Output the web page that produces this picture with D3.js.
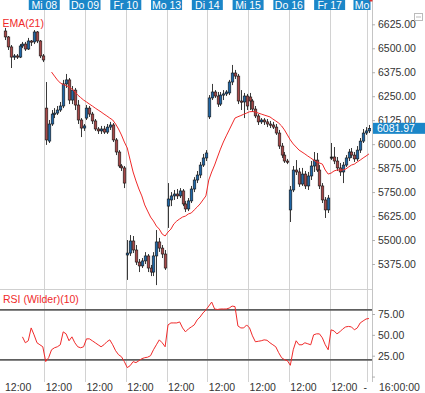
<!DOCTYPE html>
<html><head><meta charset="utf-8">
<script src="https://cdn.jsdelivr.net/npm/d3@7"></script>
<style>body{margin:0;background:#fff}svg{display:block;font-family:"Liberation Sans",Arial,sans-serif}</style>
</head><body><div id="c"></div>
<script>
// ---- data ----
const dayLabels = ["Mi 08","Do 09","Fr 10","Mo 13","Di 14","Mi 15","Do 16","Fr 17","Mo"];
const daySlots  = [14,28,42,56,70,84,98,112,125];
const opens = [
6590,6559,6507,6454,6460,6454,6512,6522,6496,6538,6533,6585,6538,6460,
6188,6016,6105,6157,6162,6178,6199,6314,6335,6230,6282,6204,6126,6084,
6136,6188,6157,6121,6079,6069,6079,6063,6089,6100,6022,5959,5886,5876,
5422,5432,5495,5448,5385,5365,5391,5417,5354,5333,5417,5490,5458,5427,
5677,5709,5730,5740,5730,5756,5688,5662,5704,5766,5813,5839,5891,5928,
6142,6241,6272,6251,6209,6256,6262,6267,6324,6371,6355,6225,6220,6251,
6246,6225,6183,6147,6116,6126,6116,6105,6100,6089,6058,5990,5943,5912,
5657,5761,5865,5855,5792,5844,5782,5834,5886,5917,5865,5782,5709,5657,
5933,5933,5912,5876,5855,5891,5928,5959,5943,5923,5969,6016,6058,
6069];
const highs = [
6606,6564,6517,6470,6470,6522,6533,6533,6554,6543,6595,6590,6543,6470,
6324,6126,6178,6188,6199,6220,6335,6366,6345,6303,6293,6230,6136,6105,
6204,6199,6168,6131,6089,6095,6095,6105,6116,6110,6032,5969,5896,5886,
5500,5526,5521,5474,5401,5406,5437,5427,5370,5437,5552,5511,5474,5448,
5797,5750,5761,5766,5771,5766,5704,5719,5782,5828,5860,5907,5949,5969,
6256,6314,6282,6272,6272,6282,6282,6335,6413,6387,6366,6282,6267,6262,
6267,6235,6199,6157,6136,6136,6131,6121,6116,6105,6074,6006,5959,5923,
5782,5886,5917,5876,5876,5860,5855,5912,5959,5954,5891,5797,5724,5735,
6006,5985,5933,5902,5907,5943,5975,5980,5959,5990,6032,6079,6089,
6100];
const lows = [
6543,6491,6397,6439,6444,6449,6501,6486,6491,6512,6522,6527,6449,6428,
5996,6006,6095,6136,6152,6168,6188,6293,6209,6209,6178,6105,6037,6069,
6126,6142,6105,6069,6053,6053,6053,6053,6074,6011,5943,5876,5860,5771,
5292,5417,5432,5370,5333,5354,5375,5333,5312,5312,5265,5438,5406,5344,
5563,5677,5709,5714,5719,5677,5646,5651,5693,5750,5797,5823,5881,5912,
6131,6230,6241,6194,6199,6230,6251,6256,6308,6340,6209,6178,6136,6178,
6178,6168,6136,6100,6105,6100,6089,6084,6079,6048,5975,5928,5902,5896,
5594,5750,5839,5777,5782,5766,5761,5813,5855,5855,5766,5693,5615,5641,
5917,5896,5860,5834,5797,5881,5912,5928,5907,5912,5954,6006,6048,
6058];
const closes = [
6559,6507,6454,6460,6454,6512,6522,6496,6538,6533,6585,6538,6460,6439,
6022,6105,6157,6162,6178,6199,6314,6335,6230,6282,6204,6126,6084,6095,
6188,6157,6121,6079,6069,6079,6063,6089,6100,6022,5959,5886,5876,5797,
5432,5495,5448,5385,5365,5391,5417,5354,5333,5417,5490,5458,5427,5354,
5714,5730,5740,5730,5756,5688,5662,5704,5766,5813,5839,5891,5928,5954,
6241,6272,6251,6209,6256,6262,6272,6324,6371,6355,6225,6220,6251,6199,
6225,6183,6147,6116,6126,6116,6105,6100,6089,6058,5990,5943,5912,5907,
5761,5865,5855,5792,5844,5782,5834,5886,5917,5865,5782,5709,5657,5719,
5933,5912,5876,5855,5891,5928,5959,5943,5923,5969,6016,6058,6069,
6081.97];
const ema = [
null,null,null,null,null,null,null,null,null,null,null,null,null,null,null,null,
6376,6355,6335,6319,6311,6306,6298,6288,6272,6256,6243,6230,
6220,6209,6199,6188,6178,6168,6157,6147,6136,6126,6105,6079,6048,6011,
5980,5917,5855,5808,5766,5730,5683,5651,5620,5599,5573,5557,5531,5521,
5542,5557,5584,5599,5610,5620,5625,5636,5641,5657,5672,5688,5709,5730,
5813,5855,5891,5933,5974,6011,6043,6074,6105,6136,6143,6149,6156,6162,
6169,6170,6168,6162,6157,6152,6147,6142,6131,6121,6110,6095,6074,6048,
6022,6001,5985,5969,5959,5949,5938,5928,5917,5907,5902,5896,5865,5844,
5849,5860,5865,5865,5865,5870,5881,5891,5896,5907,5917,5928,5938,
5949];
const rsi = [
null,null,null,null,null,null,
47.6,40.5,42.9,58.3,50,40.5,38.1,35.7,
17.9,22.6,32.1,34.5,35.7,38.1,53.6,51.2,42.9,47.6,40.5,35.7,34.5,35.7,
45.2,45.2,42.9,40.5,38.1,35.7,38.1,41.7,44,38.1,31,26.2,23.8,17.9,
10.7,13.1,17.9,16.7,19,21.4,22.6,23.2,25,32.1,38.1,44,40.5,35.7,
61.9,64.3,64.3,64.3,65.5,58.3,53.6,57.1,59.5,61.9,67.9,71.4,76.2,79.8,
84.5,89.3,81,80.4,81,81,81,82.1,84.5,83.9,60.7,58.3,58.3,61.9,
58.3,48.8,41.7,42.3,42.9,44,43.5,40.5,38.1,35.7,28.6,22.6,20.2,19,
13.5,32.1,42.9,38.1,38.1,40.5,39.3,38.1,50,51.2,51.2,46.4,38.1,32.1,
56,54.8,51.2,53.6,57.1,59.5,60.1,59.5,56,58.3,64.3,66.7,69,
69.6];
const priceTicks = [6625,6500,6375,6250,6125,6000,5875,5750,5625,5500,5375];
const rsiTicks = [0,25,50,75];
const rsiLevels = [80,20];
const lastPrice = 6081.97;
const hourLabel = "12:00";
const hourLabelSlots = [0,14,28,42,56,70,84,98,112];

// ---- chart ----
const W=425,H=393, plotR=372;
const svg=d3.select("#c").append("svg").attr("width",W).attr("height",H);
svg.append("rect").attr("width",W).attr("height",H).attr("fill","#fff");
const x=d3.scaleLinear().domain([0,126]).range([3.5,370.4]);
const y=d3.scaleLinear().domain([5375,6625]).range([264,24.3]);
const yr=d3.scaleLinear().domain([25,75]).range([355.7,314]);
const BLUE="#1b86c8", RED="#f02a2a";

svg.append("clipPath").attr("id","pc").append("rect").attr("x",0).attr("y",0).attr("width",371).attr("height",H);

// gridlines
svg.append("g").selectAll("line").data(daySlots).join("line")
  .attr("x1",d=>Math.round(x(d))+0.5).attr("x2",d=>Math.round(x(d))+0.5)
  .attr("y1",10).attr("y2",382).attr("stroke","#d2d2d2").attr("stroke-width",1);
svg.append("line").attr("x1",0).attr("x2",plotR).attr("y1",289.5).attr("y2",289.5).attr("stroke","#cfcfcf");
svg.append("line").attr("x1",plotR+0.5).attr("x2",plotR+0.5).attr("y1",0).attr("y2",382).attr("stroke","#c4c4c4");

// top day labels (last one is pushed left to stay inside the plot)
const tl=svg.append("g");
daySlots.forEach((s,i)=>{
  let x0=x(s)-15.5, x1=x0+31;
  if (x1>370.5){ x1=370.5; x0=x(s)-14; }
  tl.append("rect").attr("x",x0).attr("y",0).attr("width",x1-x0).attr("height",10).attr("fill",BLUE);
  tl.append("text").attr("x",(x0+x1)/2).attr("y",8.6).attr("text-anchor","middle").attr("fill","#fff")
    .attr("font-size","10.5px").text(dayLabels[i]);
});
svg.append("rect").attr("x",369.5).attr("y",0).attr("width",3).attr("height",1.5).attr("fill","#e03030");

// candles
const cg=svg.append("g").attr("clip-path","url(#pc)");
opens.forEach((o,i)=>{
  const c=closes[i], cx=Math.round(x(i+0.5))+0.5;
  cg.append("line").attr("x1",cx).attr("x2",cx).attr("y1",y(highs[i])).attr("y2",y(lows[i]))
    .attr("stroke","#3a3a3a").attr("stroke-width",1);
  const top=y(Math.max(o,c)), bot=y(Math.min(o,c));
  const h=Math.max(1.2,bot-top);
  cg.append("rect").attr("x",cx-1.3).attr("y",top).attr("width",2.6).attr("height",h)
    .attr("fill", c>o ? "#1f66a6" : (c<o ? "#a64848" : "#222"))
    .attr("stroke","#151515").attr("stroke-width",0.6);
});

// EMA
const line=d3.line().defined(d=>d[1]!=null).x(d=>x(d[0]+0.5)).y(d=>y(d[1]));
cg.append("path").datum(ema.map((v,i)=>[i,v])).attr("d",line).attr("fill","none")
  .attr("stroke",RED).attr("stroke-width",1);

// RSI
svg.append("g").selectAll("line").data(rsiLevels).join("line")
  .attr("x1",0).attr("x2",plotR).attr("y1",d=>yr(d)).attr("y2",d=>yr(d))
  .attr("stroke","#5e5e5e").attr("stroke-width",1.6);
const rline=d3.line().defined(d=>d[1]!=null).x(d=>x(d[0]+0.5)).y(d=>yr(d[1]));
svg.append("path").attr("clip-path","url(#pc)").datum(rsi.map((v,i)=>[i,v])).attr("d",rline)
  .attr("fill","none").attr("stroke",RED).attr("stroke-width",1);

// labels
svg.append("text").attr("x",2.5).attr("y",26.5).attr("fill",RED).attr("font-size","10.5px").text("EMA(21)");
svg.append("text").attr("x",3).attr("y",303).attr("fill",RED).attr("font-size","10.5px").text("RSI (Wilder)(10)");

// right axes
const ax=svg.append("g").attr("transform",`translate(${plotR},0)`)
  .call(d3.axisRight(y).tickValues(priceTicks).tickFormat(d3.format(".2f")).tickSize(3).tickPadding(3));
const ax2=svg.append("g").attr("transform",`translate(${plotR},0)`)
  .call(d3.axisRight(yr).tickValues(rsiTicks).tickFormat(d=>d===0?"":d3.format(".2f")(d)).tickSize(3).tickPadding(3));
[ax,ax2].forEach(a=>{
  a.select(".domain").remove();
  a.selectAll("line").attr("stroke","#b0b0b0");
  a.selectAll("text").attr("fill","#333").attr("font-size","10.5px").attr("font-family",'"Liberation Sans",Arial,sans-serif');
});

// last price box
svg.append("rect").attr("x",373).attr("y",y(lastPrice)-5.6).attr("width",52).attr("height",11).attr("fill",BLUE);
svg.append("text").attr("x",377).attr("y",y(lastPrice)+3.8).attr("fill","#fff").attr("font-size","10.5px").text(d3.format(".2f")(lastPrice));

// bottom time labels
svg.append("g").selectAll("text").data(hourLabelSlots).join("text")
  .attr("x",d=>x(d)+1.5).attr("y",391).attr("fill","#333").attr("font-size","10.5px").text(hourLabel);
svg.append("text").attr("x",363.5).attr("y",391).attr("fill","#333").attr("font-size","10.5px").text("-");
svg.append("text").attr("x",379).attr("y",391).attr("fill","#333").attr("font-size","10.5px").text("16:00:00");

// small legend icon
svg.append("rect").attr("x",414.5).attr("y",13.5).attr("width",8).attr("height",7).attr("fill","none").attr("stroke","#bbb");
svg.append("line").attr("x1",416).attr("x2",421).attr("y1",17).attr("y2",17).attr("stroke","#bbb");
</script></body></html>
